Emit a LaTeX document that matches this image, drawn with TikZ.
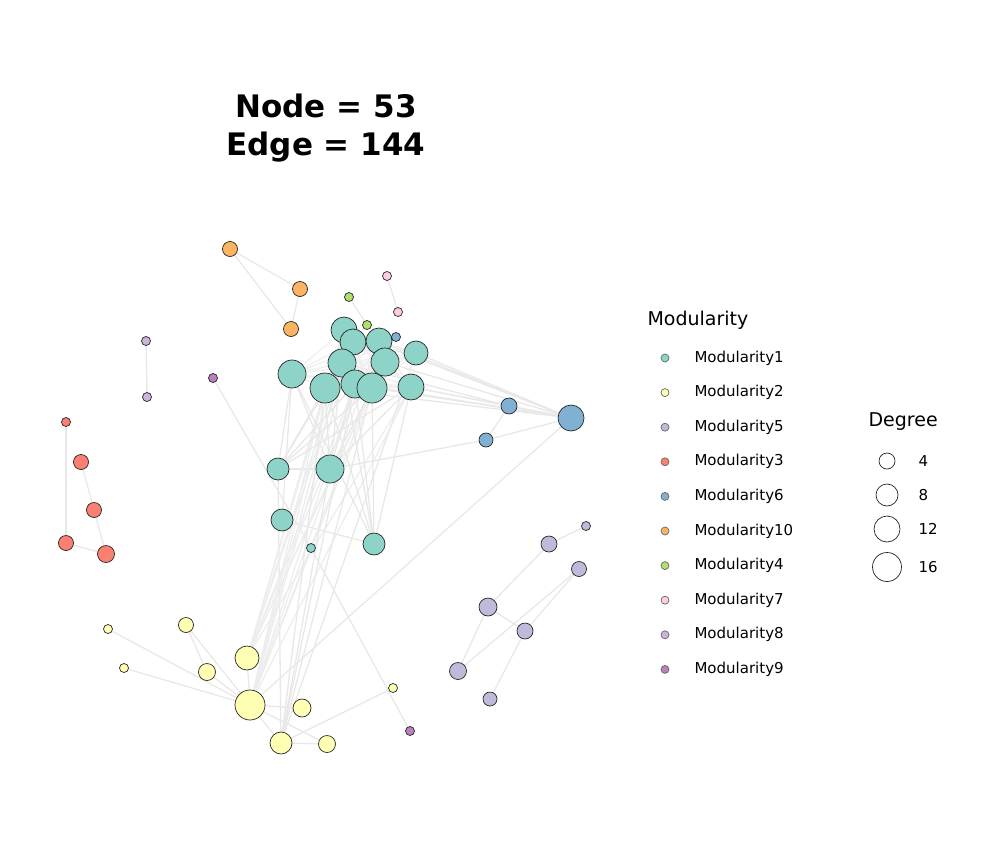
\documentclass[tikz,border=0pt]{standalone}
\usepackage{fontspec}
\setmainfont{DejaVu Sans}
\usetikzlibrary{positioning}
\definecolor{mA}{HTML}{8DD3C7}
\definecolor{mB}{HTML}{FFFFB3}
\definecolor{mE}{HTML}{BEBADA}
\definecolor{mC}{HTML}{FB8072}
\definecolor{mF}{HTML}{80B1D3}
\definecolor{mJ}{HTML}{FDB462}
\definecolor{mD}{HTML}{B3DE69}
\definecolor{mG}{HTML}{FCCDE5}
\definecolor{mH}{HTML}{CDB4DA}
\definecolor{mI}{HTML}{BC80BD}
\tikzset{
vert/.style={circle,draw=black!85,line width=0.7pt,inner sep=0pt,minimum size=#1},
link/.style={draw=black!9,line width=1.3pt},
leg/.style={anchor=west,font=\fontsize{15}{18}\selectfont}
}
\newcommand\vertlist{
  t1/344/330/26/mA, t2/353/342/26/mA, t3/379/341/26/mA, t4/342/363/28/mA,
  t5/385/362/28/mA, t6/416/353/24/mA, t7/292/374/28/mA, t8/325/388/30/mA,
  t9/355/384/28/mA, t10/372/388/30/mA, t11/411/387/26/mA, t12/278/469/22/mA,
  t13/330/469/28/mA, t14/282/520/22/mA, t15/311/548/9/mA, t16/374/544/22/mA,
  b1/396/337/9/mF, b2/509/406/16/mF, b3/571/418/26/mF, b4/486/440/14/mF,
  o1/230/249/15/mJ, o2/300/289/15/mJ, o3/291/329/15/mJ,
  g1/349/297/9/mD, g2/367/325/9/mD, p1/387/276/9/mG, p2/398/312/9/mG,
  i1/213/378/9/mI, i2/410/731/9/mI, h1/146/341/9/mH, h2/147/397/9/mH,
  r1/66/422/9/mC, r2/81/462/15/mC, r3/94/510/15/mC, r4/66/543/15/mC, r5/106/554/17/mC,
  y1/108/629/9/mB, y2/186/625/15/mB, y3/124/668/9/mB, y4/207/672/17/mB,
  y5/247/658/24/mB, y6/250/705/30/mB, y7/302/708/18/mB, y8/281/743/22/mB,
  y9/327/744/17/mB, y10/393/688/9/mB,
  l1/586/526/9/mE, l2/549/544/16/mE, l3/579/569/15/mE, l4/488/607/18/mE,
  l5/525/631/16/mE, l6/458/671/17/mE, l7/490/699/14/mE}

\begin{document}
\begin{tikzpicture}[x=1pt,y=-1pt]
\useasboundingbox (0,0) rectangle (1008,864);
% the title
\node[font=\bfseries\fontsize{31}{38}\selectfont,align=center] (title) at (326,128) {Node = 53\\Edge = 144};

% the vertices
\foreach \n/\x/\y/\r/\c in \vertlist
  \coordinate (\n) at (\x,\y);

% the links
\foreach \a/\b in {o1/o2,o1/o3,o2/o3,g1/g2,p1/p2,h1/h2,r1/r4,r2/r3,r3/r5,r4/r5,
  i1/t15,t15/i2,y1/y6,y3/y6,y2/y4,y4/y6,y2/y6,y5/y6,y6/y7,y6/y8,y6/y9,y8/y9,
  y8/y10,y6/b3,l1/l2,l2/l4,l3/l5,l4/l6,l5/l7,l4/l5,l6/l3,b2/b4,b4/b3,b2/b3,
  t12/t13,t13/b4,t3/b1,t7/t14,t12/y8,t14/t16,
  t1/b3,t3/b3,t5/b3,t6/b3,t8/b3,t9/b3,t10/b3,t11/b3,t4/b2,t11/b2}
  \draw[link] (\a) -- (\b);
\foreach \a in {t1,t2,t3,t4,t5,t6,t7,t8,t9,t10,t11}
  \foreach \b in {t1,t2,t3,t4,t5,t8,t9,t10,t11}
    \draw[link,draw=black!6] (\a) -- (\b);
\foreach \a in {t1,t2,t4,t5,t8,t9,t10,t11,t3}
  \draw[link,draw=black!7] (\a) -- (y6) (\a) -- (y5);
\foreach \a in {t8,t9,t10,t13,t6}
  \draw[link] (\a) -- (y8);
\foreach \a in {t7,t8,t9,t10,t11,t4}
  \draw[link] (\a) -- (t12) (\a) -- (t13) (\a) -- (t16);

\foreach \n/\x/\y/\r/\c in \vertlist
  \node[vert=\r pt,fill=\c] (v-\n) at (\n) {};

% the legends
\node[anchor=west,font=\fontsize{19}{22}\selectfont] (modtitle) at (644,320) {Modularity};
\foreach \c/\t [count=\i] in {mA/Modularity1,mB/Modularity2,mE/Modularity5,mC/Modularity3,
  mF/Modularity6,mJ/Modularity10,mD/Modularity4,mG/Modularity7,mH/Modularity8,mI/Modularity9}
{
  \node[vert=8pt,fill=\c,draw=black!60] (key-\i) at (665,{358+34.6*(\i-1)}) {};
  \node[leg] (lab-\i) at (691,{358+34.6*(\i-1)}) {\t};
}
\node[anchor=west,font=\fontsize{19}{22}\selectfont] (degtitle) at (865,422) {Degree};
\foreach \d/\s/\y in {4/16/461,8/22/495,12/26/529,16/29/567}
{
  \node[vert=\s pt,fill=white] (deg-\d) at (887,\y) {};
  \node[leg] (dlab-\d) at (915,\y) {\d};
}
\end{tikzpicture}
\end{document}
